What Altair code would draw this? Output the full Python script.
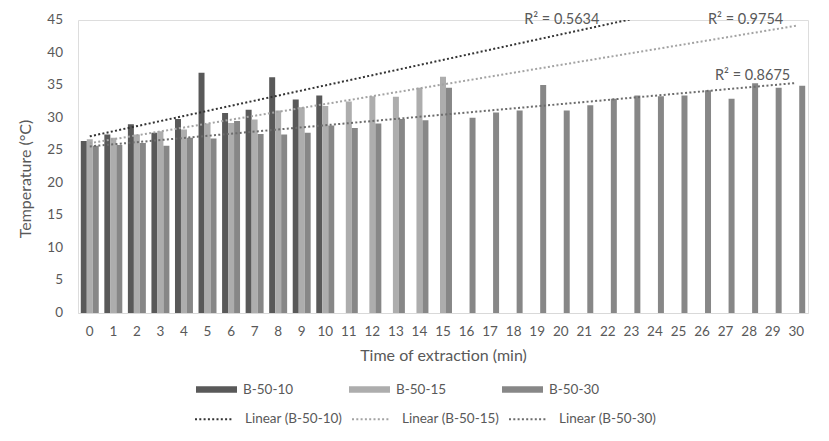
import altair as alt
import pandas as pd

times = list(range(31))
series_names = ["B-50-10", "B-50-15", "B-50-30"]
trend_names = ["Linear (B-50-10)", "Linear (B-50-15)", "Linear (B-50-30)"]
r2_texts = ["R² = 0.5634", "R² = 0.9754", "R² = 0.8675"]
y_ticks = [0, 5, 10, 15, 20, 25, 30, 35, 40, 45]

b50_10 = [26.4, 27.4, 29.0, 27.7, 29.8, 36.9, 30.7, 31.2, 36.2, 32.8, 33.4]
b50_15 = [26.7, 26.9, 27.4, 27.9, 28.2, 29.1, 29.2, 29.7, 31.1, 31.6, 31.8,
          32.5, 33.3, 33.2, 34.6, 36.3]
b50_30 = [25.7, 25.8, 26.1, 25.7, 26.9, 26.8, 29.5, 27.5, 27.4, 27.7, 28.8,
          28.4, 29.1, 29.8, 29.6, 34.6, 30.0, 30.8, 31.1, 35.0, 31.1, 31.9,
          32.9, 33.4, 33.3, 33.4, 34.2, 32.9, 35.3, 34.6, 34.9]

bar_colors = ["#595959", "#adadad", "#878787"]
trend_colors = ["#333333", "#a3a3a3", "#6c6c6c"]
trend_extents = [[0, 23], [0, 30], [0, 30]]
label_offsets = [(-32, 1), (-13, -6), (-6, -7)]

rows = []
for name, trend, vals in zip(series_names, trend_names, [b50_10, b50_15, b50_30]):
    for t, v in zip(times, vals):
        rows.append({"t": t, "temp": v, "series": name, "trend": trend})
df = pd.DataFrame(rows)
ticks_df = pd.DataFrame({"temp": y_ticks})

FONT = "Lato"
GREY = "#595959"

y_axis = alt.Axis(labels=False, grid=False, domain=False, ticks=False,
                  titleFontSize=16, titleColor=GREY, titleFontWeight="normal",
                  titleFont=FONT, titleX=-53, titleY=158.5, titleAngle=270,
                  titleBaseline="middle", titleAlign="center")
y_scale = alt.Scale(domain=[0, 45], nice=False)
y_enc = alt.Y("temp:Q", title="Temperature (°C)", scale=y_scale, axis=y_axis)
xq = alt.X("t:Q", scale=alt.Scale(domain=[-0.5, 30.5], nice=False, zero=False),
           axis=None)

base = alt.Chart(df)

bars = base.mark_bar().encode(
    x=alt.X("t:O", title="Time of extraction (min)",
            scale=alt.Scale(paddingInner=0.237, paddingOuter=0.1185),
            axis=alt.Axis(labelAngle=0, ticks=False, domainColor="#d9d9d9",
                          labelPadding=11, titlePadding=10, labelFontSize=13.5,
                          titleFontSize=16, labelColor=GREY, titleColor=GREY,
                          titleFontWeight="normal", labelFont=FONT, titleFont=FONT,
                          labelOverlap=False)),
    xOffset=alt.XOffset("series:N", sort=series_names,
                        scale=alt.Scale(paddingInner=0, paddingOuter=0)),
    y=alt.Y("temp:Q", title="Temperature (°C)", scale=y_scale, axis=y_axis,
            stack=None),
    fill=alt.Fill("series:N", sort=series_names,
                  scale=alt.Scale(domain=series_names, range=bar_colors),
                  legend=alt.Legend(title=None, orient="none", legendX=118,
                                    legendY=349, direction="horizontal",
                                    columns=3, columnPadding=55,
                                    symbolType="M-1,-0.16H1V0.16H-1Z",
                                    symbolSize=1681, symbolStrokeWidth=0,
                                    labelOffset=6, labelFontSize=13.5,
                                    labelColor=GREY, labelFont=FONT)),
)

# y tick labels drawn through the shared y scale
tick_labels = alt.Chart(ticks_df).mark_text(
    align="right", baseline="middle", dx=-15, fontSize=13.5, font=FONT,
    color=GREY).encode(
    x=alt.value(0),
    y=y_enc,
    text=alt.Text("temp:Q", format="d"),
)

layers = [bars, tick_labels]
for i, name in enumerate(series_names):
    sub = base.transform_filter(alt.datum.series == name)
    reg = sub.transform_regression("t", "temp", extent=trend_extents[i]).transform_calculate(
        trend=alt.expr.if_(True, trend_names[i], ""))
    line = reg.mark_line(strokeDash=[2, 2.3], strokeWidth=2, clip=True).encode(
        x=xq,
        y=y_enc,
        stroke=alt.Stroke("trend:N", sort=trend_names,
                          scale=alt.Scale(domain=trend_names, range=trend_colors),
                          legend=alt.Legend(title=None, orient="none", legendX=116,
                                            legendY=379, direction="horizontal",
                                            columns=3, columnPadding=5,
                                            symbolType="M-1,0H1", symbolSize=1444,
                                            symbolStrokeWidth=2, symbolDash=[2, 2.3],
                                            labelOffset=11, labelFontSize=13.5,
                                            labelColor=GREY, labelFont=FONT)),
    )
    dx, dy = label_offsets[i]
    label = reg.transform_filter(alt.datum.t >= trend_extents[i][1] - 0.001).mark_text(
        align="right", baseline="middle", dx=dx, dy=dy, fontSize=14.5, font=FONT,
        color=GREY).encode(
        x=xq,
        y=y_enc,
        text=alt.value(r2_texts[i]),
    )
    layers += [line, label]

chart = alt.layer(*layers).resolve_scale(x="independent").properties(
    width=730, height=293,
    autosize=alt.AutoSizeParams(type="none"),
    padding={"left": 70, "top": 12, "right": 13, "bottom": 120},
).configure_view(stroke=None).configure(background="white")

chart.save("out.html", embed_options={"renderer": "svg", "actions": False})
